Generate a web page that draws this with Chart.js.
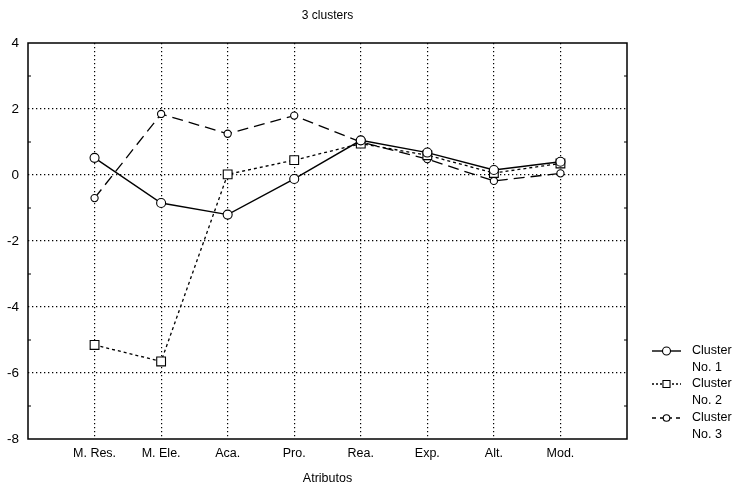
<!DOCTYPE html>
<html>
<head>
<meta charset="utf-8">
<script src="https://cdn.jsdelivr.net/npm/chart.js@4/dist/chart.umd.min.js"></script>
<style>
html,body{margin:0;padding:0;background:#fff;}
#wrap{width:745px;height:491px;position:relative;}
</style>
</head>
<body>
<div id="wrap"><canvas id="c" width="745" height="491"></canvas></div>
<script>
const categories = ["M. Res.", "M. Ele.", "Aca.", "Pro.", "Rea.", "Exp.", "Alt.", "Mod."];
const cluster1 = [0.52, -0.85, -1.2, -0.12, 1.05, 0.68, 0.15, 0.4];
const cluster2 = [-5.15, -5.65, 0.02, 0.45, 0.95, 0.6, 0.06, 0.35];
const cluster3 = [-0.7, 1.85, 1.25, 1.8, 1.0, 0.48, -0.18, 0.05];
const seriesNames = [["Cluster", "No. 1"], ["Cluster", "No. 2"], ["Cluster", "No. 3"]];
const yTicks = [-8, -6, -4, -2, 0, 2, 4];

const FONT = "'Liberation Sans', Arial, sans-serif";
const toPts = arr => arr.map((v, i) => ({x: i + 1, y: v}));

const frame = {
  id: 'frame',
  afterDraw(chart) {
    const {ctx, chartArea: a, scales} = chart;
    ctx.save();
    ctx.strokeStyle = '#000';
    ctx.lineWidth = 1.5;
    ctx.setLineDash([]);
    ctx.strokeRect(a.left, a.top, a.right - a.left, a.bottom - a.top);
    ctx.lineWidth = 1;
    for (let v = -7; v <= 3; v += 2) {
      const y = scales.y.getPixelForValue(v);
      ctx.beginPath();
      ctx.moveTo(a.left, y); ctx.lineTo(a.left + 3, y);
      ctx.moveTo(a.right, y); ctx.lineTo(a.right - 3, y);
      ctx.stroke();
    }
    ctx.restore();
  }
};

const legendPlugin = {
  id: 'customLegend',
  afterDraw(chart) {
    const {ctx} = chart;
    const x0 = 652, x1 = 681, tx = 692;
    const tops = [351, 384, 418];
    ctx.save();
    ctx.font = '12.5px ' + FONT;
    ctx.textBaseline = 'middle';
    chart.data.datasets.forEach((ds, i) => {
      const y = tops[i];
      ctx.strokeStyle = '#000';
      ctx.lineWidth = ds.borderWidth;
      ctx.setLineDash(ds.legendDash);
      ctx.beginPath(); ctx.moveTo(x0, y); ctx.lineTo(x1, y); ctx.stroke();
      ctx.setLineDash([]);
      ctx.lineWidth = 1.1;
      ctx.fillStyle = '#fff';
      ctx.strokeStyle = '#000';
      Chart.helpers.drawPoint(ctx, {pointStyle: ds.pointStyle, radius: ds.legendRadius, borderWidth: 1.1}, (x0 + x1) / 2, y);
      ctx.fillStyle = '#000';
      ctx.fillText(seriesNames[i][0], tx, y);
      ctx.fillText(seriesNames[i][1], tx, y + 16.5);
    });
    ctx.restore();
  }
};

const ctx = document.getElementById('c').getContext('2d');
new Chart(ctx, {
  type: 'line',
  data: {
    datasets: [
      {label: 'Cluster No. 1', data: toPts(cluster1), borderColor: '#000', borderWidth: 1.4, borderDash: [],
       legendDash: [], legendRadius: 4, pointStyle: 'circle', pointRadius: 4.5, pointBackgroundColor: '#fff', pointBorderColor: '#000', pointBorderWidth: 1.1},
      {label: 'Cluster No. 2', data: toPts(cluster2), borderColor: '#000', borderWidth: 1.3, borderDash: [3, 3],
       legendDash: [2, 2], legendRadius: 5, pointStyle: 'rect', pointRadius: 6.2, pointBackgroundColor: '#fff', pointBorderColor: '#000', pointBorderWidth: 1.1},
      {label: 'Cluster No. 3', data: toPts(cluster3), borderColor: '#000', borderWidth: 1.3, borderDash: [11, 6],
       legendDash: [4, 4], legendRadius: 3.3, pointStyle: 'circle', pointRadius: 3.6, pointBackgroundColor: '#fff', pointBorderColor: '#000', pointBorderWidth: 1.1}
    ]
  },
  options: {
    responsive: false,
    animation: false,
    layout: {padding: {left: 0, right: 118, top: 0, bottom: 0}},
    plugins: {
      legend: {display: false},
      tooltip: {enabled: false},
      title: {display: true, text: '3 clusters', fullSize: false, color: '#000',
              font: {family: FONT, size: 12, weight: 'normal'}, padding: {top: 8, bottom: 20.6}}
    },
    scales: {
      x: {
        type: 'linear', min: 0, max: 9,
        afterFit(s) { s.height = 52; },
        ticks: {stepSize: 1, color: '#000', padding: 7, font: {family: FONT, size: 12.5},
                callback: v => (v >= 1 && v <= categories.length) ? categories[v - 1] : ''},
        grid: {color: c => (c.tick && c.tick.value >= 1 && c.tick.value <= 8) ? '#000' : 'rgba(0,0,0,0)',
               lineWidth: 1.2, drawTicks: false},
        border: {display: false, dash: [1.3, 2.7]},
        title: {display: true, text: 'Atributos', color: '#000', font: {family: FONT, size: 12.5}, padding: {top: 4, bottom: 5}}
      },
      y: {
        min: -8, max: 4,
        afterFit(s) { s.width = 28; },
        afterBuildTicks(s) { s.ticks = yTicks.map(v => ({value: v})); },
        ticks: {color: '#000', padding: 9, font: {family: FONT, size: 13.5}},
        grid: {color: c => (c.tick && c.tick.value > -8 && c.tick.value < 4) ? '#000' : 'rgba(0,0,0,0)',
               lineWidth: 1.2, drawTicks: false},
        border: {display: false, dash: [1.3, 2.7]}
      }
    }
  },
  plugins: [frame, legendPlugin]
});
</script>
</body>
</html>
